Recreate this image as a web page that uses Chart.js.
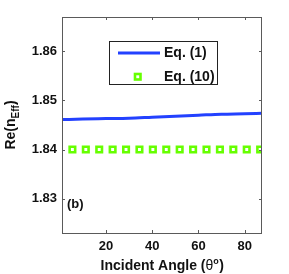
<!DOCTYPE html>
<html>
<head>
<meta charset="utf-8">
<script src="https://cdn.jsdelivr.net/npm/chart.js@4"></script>
<style>
  body { margin: 0; background: #fff; }
  canvas { display: block; }
</style>
</head>
<body>
<canvas id="chart" width="289" height="274"></canvas>
<script>
// Eq. (1) curve
const eq1Angles = [1, 10, 20, 30, 40, 50, 60, 70, 80, 87.5];
const eq1Values = [1.8461, 1.8462, 1.8463, 1.8464, 1.8466, 1.8468, 1.8470, 1.8472, 1.8473, 1.8474];

// Eq. (10) markers
const eq10Angles = [5.5, 11.3, 17.1, 22.9, 28.7, 34.5, 40.3, 46.1, 51.9, 57.7, 63.5, 69.3, 75.1, 80.9, 86.7];
const eq10Values = [1.84, 1.84, 1.84, 1.84, 1.84, 1.84, 1.84, 1.84, 1.84, 1.84, 1.84, 1.84, 1.84, 1.84, 1.84];

const xTicks = [20, 40, 60, 80];
const yTicks = [1.83, 1.84, 1.85, 1.86];

const FONT = 'Arial, "Liberation Sans", sans-serif';
const blue = "rgb(35, 65, 255)";
const green = "rgb(102, 255, 0)";

Chart.defaults.font.family = FONT;
Chart.defaults.color = "#111";

const toPoints = (xs, ys) => xs.map((x, i) => ({ x: x, y: ys[i] }));

const decorations = {
    id: "decorations",
    afterDraw(chart) {
        const ctx = chart.ctx;
        const a = chart.chartArea;
        const xs = chart.scales.x;
        const ys = chart.scales.y;
        ctx.save();

        // frame + inward ticks
        ctx.strokeStyle = "#5a5a5a";
        ctx.lineWidth = 1;
        ctx.strokeRect(a.left + 0.5, a.top + 0.5, a.right - a.left - 1, a.bottom - a.top);
        ctx.beginPath();
        xTicks.forEach(t => {
            const px = Math.round(xs.getPixelForValue(t)) + 0.5;
            ctx.moveTo(px, a.bottom); ctx.lineTo(px, a.bottom - 3);
            ctx.moveTo(px, a.top); ctx.lineTo(px, a.top + 3);
        });
        yTicks.forEach(t => {
            const py = Math.round(ys.getPixelForValue(t)) + 0.5;
            ctx.moveTo(a.left, py); ctx.lineTo(a.left + 3, py);
            ctx.moveTo(a.right, py); ctx.lineTo(a.right - 3, py);
        });
        ctx.stroke();

        // legend box
        const lx = 109, ly = 41, lw = 108, lh = 43;
        ctx.fillStyle = "#fff";
        ctx.fillRect(lx, ly, lw, lh);
        ctx.strokeStyle = "#222";
        ctx.strokeRect(lx + 0.5, ly + 0.5, lw, lh);
        ctx.strokeStyle = blue;
        ctx.lineWidth = 3;
        ctx.beginPath();
        ctx.moveTo(118, 53); ctx.lineTo(160, 53);
        ctx.stroke();
        ctx.strokeStyle = green;
        ctx.lineWidth = 2.6;
        ctx.strokeRect(135, 74, 5.5, 5.5);
        ctx.fillStyle = "#111";
        ctx.font = "bold 14px " + FONT;
        ctx.textBaseline = "middle";
        ctx.textAlign = "left";
        ctx.fillText(chart.data.datasets[0].label, 164, 53);
        ctx.fillText(chart.data.datasets[1].label, 164, 77);

        // panel label
        ctx.font = "bold 13px " + FONT;
        ctx.fillText("(b)", 67, 204);

        // x title with superscript
        const cx = (a.left + a.right) / 2;
        const bigX = "bold 14px " + FONT;
        const supF = "bold 9px " + FONT;
        const p1 = "Incident Angle (";
        const th = "\u03b8";
        const sup = "o";
        const p2 = ")";
        ctx.font = bigX;
        const w1 = ctx.measureText(p1).width;
        ctx.font = "14px " + FONT;
        const wt = ctx.measureText(th).width;
        ctx.font = supF;
        const ws = ctx.measureText(sup).width;
        ctx.font = bigX;
        const w2 = ctx.measureText(p2).width;
        let x0 = cx - (w1 + wt + ws + w2) / 2;
        const by = 270;
        ctx.textBaseline = "alphabetic";
        ctx.fillText(p1, x0, by); x0 += w1;
        ctx.font = "14px " + FONT;
        ctx.fillText(th, x0, by); x0 += wt;
        ctx.font = supF;
        ctx.fillText(sup, x0, by - 6); x0 += ws;
        ctx.font = bigX;
        ctx.fillText(p2, x0 + 0.5, by);

        // y title with subscript
        const cy = (a.top + a.bottom) / 2;
        ctx.translate(15, cy);
        ctx.rotate(-Math.PI / 2);
        const q1 = "Re(n", sub = "Eff", q2 = ")";
        ctx.font = bigX;
        const v1 = ctx.measureText(q1).width;
        const v3 = ctx.measureText(q2).width;
        ctx.font = "bold 10px " + FONT;
        const v2 = ctx.measureText(sub).width;
        let y0 = -(v1 + v2 + v3) / 2;
        ctx.font = bigX;
        ctx.fillText(q1, y0, 0); y0 += v1;
        ctx.font = "bold 10px " + FONT;
        ctx.fillText(sub, y0, 4); y0 += v2;
        ctx.font = bigX;
        ctx.fillText(q2, y0, 0);

        ctx.restore();
    }
};

new Chart(document.getElementById("chart").getContext("2d"), {
    type: "line",
    data: {
        datasets: [
            {
                label: "Eq. (1)",
                data: toPoints(eq1Angles, eq1Values),
                borderColor: blue,
                borderWidth: 3,
                pointRadius: 0,
                cubicInterpolationMode: "monotone",
                fill: false,
            },
            {
                label: "Eq. (10)",
                data: toPoints(eq10Angles, eq10Values),
                showLine: false,
                pointStyle: "rect",
                pointRadius: 3.9,
                pointBorderWidth: 2.6,
                pointBorderColor: green,
                pointBackgroundColor: "#fff",
            },
        ],
    },
    options: {
        responsive: false,
        animation: false,
        layout: { padding: { top: 17, right: 27, left: 0, bottom: 0 } },
        plugins: {
            legend: { display: false },
            tooltip: { enabled: false },
        },
        scales: {
            x: {
                type: "linear",
                min: 1,
                max: 87.5,
                afterBuildTicks: s => { s.ticks = xTicks.map(v => ({ value: v })); },
                afterFit: s => { s.height = 41; },
                grid: { display: false, drawTicks: false },
                border: { display: false },
                ticks: {
                    padding: 6,
                    maxRotation: 0,
                    color: "#111",
                    font: { size: 13, weight: "bold" },
                },
            },
            y: {
                min: 1.823,
                max: 1.867,
                afterBuildTicks: s => { s.ticks = yTicks.map(v => ({ value: v })); },
                afterFit: s => { s.width = 62; },
                grid: { display: false, drawTicks: false },
                border: { display: false },
                ticks: {
                    padding: 5,
                    color: "#111",
                    font: { size: 13, weight: "bold" },
                    callback: v => v.toFixed(2),
                },
            },
        },
    },
    plugins: [decorations],
});
</script>
</body>
</html>
